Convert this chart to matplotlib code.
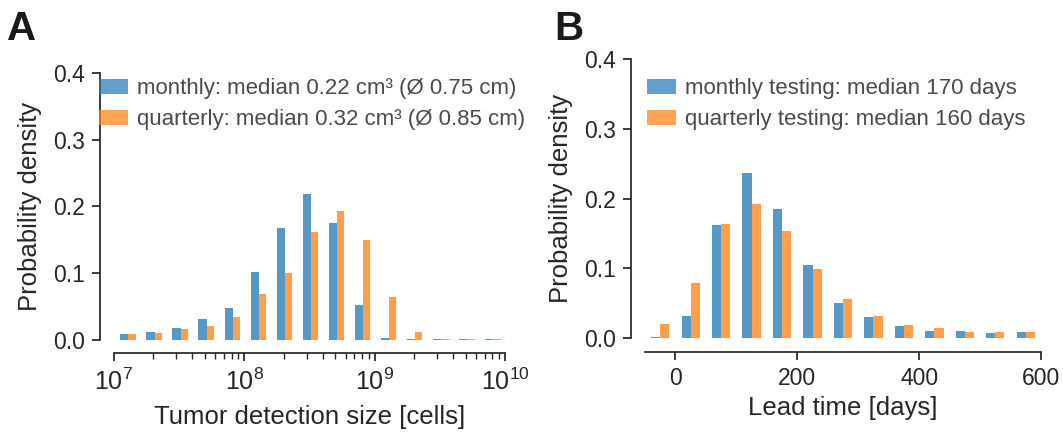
import numpy as np
import matplotlib
matplotlib.use('Agg')
import matplotlib.pyplot as plt
from matplotlib.patches import Patch

plt.rcParams['font.family'] = ['Liberation Sans', 'DejaVu Sans']
plt.rcParams['mathtext.fontset'] = 'custom'
plt.rcParams['mathtext.rm'] = 'Liberation Sans'
plt.rcParams['mathtext.it'] = 'Liberation Sans:italic'
plt.rcParams['mathtext.bf'] = 'Liberation Sans:bold'

# Panel A: tumor detection size, log-spaced bins 1e7 .. 1e10
size_edges = np.logspace(7, 10, 16)
size_monthly = [0.009, 0.012, 0.018, 0.0315, 0.048, 0.102, 0.168, 0.219,
                0.175, 0.052, 0.003, 0.001, 0.0005, 0.0005, 0.0005]
size_quarterly = [0.009, 0.0105, 0.0165, 0.021, 0.0345, 0.069, 0.100, 0.162,
                  0.193, 0.150, 0.0645, 0.012, 0.0005, 0.0005, 0.0005]

# Panel B: lead time, 50-day bins -50 .. 600
lead_edges = np.arange(-50, 601, 50)
lead_monthly = [0.0015, 0.032, 0.1615, 0.2365, 0.1846, 0.105, 0.050, 0.030,
                0.0173, 0.010, 0.010, 0.0072, 0.0087]
lead_quarterly = [0.020, 0.079, 0.163, 0.193, 0.154, 0.0995, 0.056, 0.032,
                  0.019, 0.0144, 0.0087, 0.0087, 0.0087]

labels_a = ['monthly: median 0.22 cm³ (Ø 0.75 cm)',
            'quarterly: median 0.32 cm³ (Ø 0.85 cm)']
labels_b = ['monthly testing: median 170 days',
            'quarterly testing: median 160 days']

blue = '#1f77b4'
orange = '#ff7f0e'
dark = '#262626'


def paired_bars(ax, edges, h1, h2):
    # side-by-side histogram bars, 60% of each bin in total
    lo = edges[:-1]
    w = np.diff(edges)
    ax.bar(lo + 0.2 * w, h1, width=0.3 * w, align='edge', color=blue, alpha=0.75, linewidth=0)
    ax.bar(lo + 0.5 * w, h2, width=0.3 * w, align='edge', color=orange, alpha=0.75, linewidth=0)


def style(ax):
    for s in ['top', 'right']:
        ax.spines[s].set_visible(False)
    for s in ['left', 'bottom']:
        ax.spines[s].set_position(('outward', 10))
        ax.spines[s].set_color(dark)
        ax.spines[s].set_linewidth(1.25)
    ax.tick_params(which='major', length=6, width=1.25, color=dark, labelcolor=dark,
                   labelsize=16.5, pad=5)
    ax.tick_params(which='minor', length=4, width=1.0, color=dark)
    ax.set_ylim(0, 0.4)
    ax.set_yticks([0.0, 0.1, 0.2, 0.3, 0.4])
    ax.set_ylabel('Probability density', fontsize=18.5, color=dark, labelpad=8)


fig = plt.figure(figsize=(10.63, 4.36), dpi=100)

axA = fig.add_axes([0.1072, 0.2213, 0.3679, 0.6113])
paired_bars(axA, size_edges, size_monthly, size_quarterly)
axA.set_xscale('log')
axA.set_xlim(1e7, 1e10)
style(axA)
axA.tick_params(axis='x', which='major', labelsize=18)
axA.set_xlabel('Tumor detection size [cells]', fontsize=18.5, color=dark, labelpad=7)

axB = fig.add_axes([0.6068, 0.2248, 0.3725, 0.6392])
paired_bars(axB, lead_edges, lead_monthly, lead_quarterly)
axB.set_xlim(-50, 600)
axB.set_xticks([0, 200, 400, 600])
style(axB)
axB.set_xlabel('Lead time [days]', fontsize=18.5, color=dark, labelpad=4)

for ax, labels, anchor in [(axA, labels_a, (0.093, 0.821)), (axB, labels_b, (0.609, 0.821))]:
    handles = [Patch(facecolor=blue, alpha=0.7), Patch(facecolor=orange, alpha=0.7)]
    ax.legend(handles, labels, loc='upper left', bbox_to_anchor=anchor,
              bbox_transform=fig.transFigure, frameon=False, fontsize=16,
              handlelength=1.3, handleheight=0.65, handletextpad=0.4,
              labelspacing=0.45, labelcolor='#4a4a4a', borderaxespad=0, borderpad=0)

fig.text(0.007, 0.978, 'A', fontsize=29, fontweight='bold', color='#1a1a1a', va='top')
fig.text(0.521, 0.978, 'B', fontsize=29, fontweight='bold', color='#1a1a1a', va='top')

fig.savefig('out.png', dpi=100)
